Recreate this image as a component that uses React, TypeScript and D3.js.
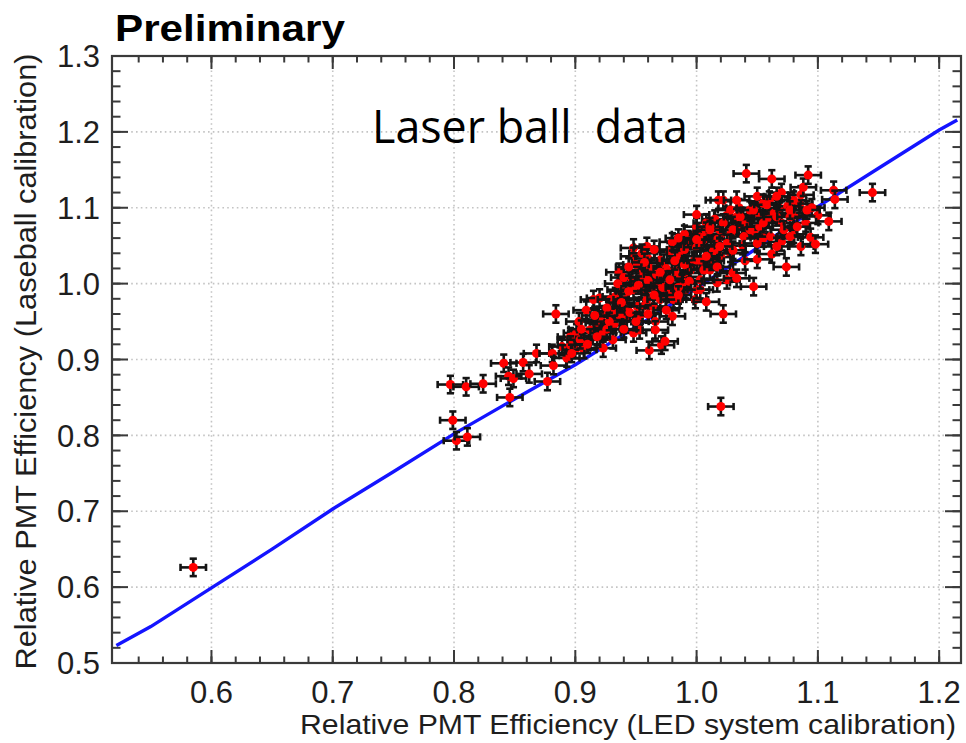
import * as d3 from 'd3';
import * as React from 'react';

const width = 966;
const height = 743;
const plot = { left: 112, right: 961, top: 56, bottom: 663 };

const xTicks = [0.6, 0.7, 0.8, 0.9, 1.0, 1.1, 1.2];
const yTicks = [0.5, 0.6, 0.7, 0.8, 0.9, 1.0, 1.1, 1.2, 1.3];

// fit line (LED vs laserball)
const fitLine: [number, number][] = [
  [0.5216, 0.5231], [0.55, 0.548], [0.6, 0.599], [0.65, 0.65], [0.7, 0.703],
  [0.75, 0.752], [0.8, 0.802], [0.85, 0.848], [0.9, 0.893], [0.95, 0.943],
  [1.0, 0.994], [1.05, 1.047], [1.1, 1.1015], [1.15, 1.152], [1.2, 1.2025],
  [1.2149, 1.2157],
];

// [LED efficiency, laserball efficiency]
const outliers: [number, number][] = [
  [0.585, 0.626], [1.02, 0.838], [1.145, 1.12],
];

const lowGroup: [number, number][] = [
  [0.797, 0.867], [0.81, 0.864], [0.824, 0.868], [0.799, 0.82], [0.802, 0.793],
  [0.811, 0.798], [0.846, 0.85], [0.841, 0.895], [0.845, 0.878], [0.849, 0.875],
  [0.857, 0.896], [0.862, 0.881], [0.868, 0.908], [0.877, 0.871], [0.881, 0.908],
  [0.882, 0.892], [0.884, 0.96], [0.893, 0.902], [0.889, 0.917], [0.896, 0.926],
  [0.9, 0.913], [0.901, 0.935], [0.896, 0.93], [0.896, 0.919],
];

const midCluster: [number, number][] = [
  [0.903, 0.95], [0.907, 0.913], [0.912, 0.926], [0.915, 0.939], [0.909, 0.965],
  [0.915, 0.979], [0.92, 0.981], [0.923, 0.959], [0.919, 0.948], [0.923, 0.915],
  [0.904, 0.926], [0.912, 0.939], [0.92, 0.952], [0.929, 0.957], [0.933, 0.965],
  [0.933, 0.983], [0.937, 0.992], [0.929, 0.979], [0.942, 0.979], [0.942, 0.97],
  [0.937, 0.957], [0.941, 0.952], [0.948, 0.935], [0.951, 0.97], [0.953, 0.957],
  [0.953, 0.939], [0.956, 0.97], [0.958, 0.99], [0.958, 0.998], [0.959, 0.979],
  [0.961, 0.912], [0.971, 0.919], [0.974, 0.924], [0.931, 0.926], [0.923, 0.935],
  [0.966, 0.95], [0.966, 0.939], [0.964, 0.97], [0.964, 0.996], [0.97, 0.979],
  [0.97, 1.005], [0.975, 0.99], [0.978, 0.987], [0.98, 0.957], [0.981, 0.979],
  [0.986, 0.979], [0.991, 0.992], [0.999, 0.979], [1.0, 0.992], [1.003, 0.992],
  [1.008, 0.976], [1.022, 0.96], [0.936, 1.015], [0.947, 1.005], [0.953, 1.018],
  [0.948, 0.992], [0.956, 1.009], [0.97, 1.0], [0.992, 1.009], [0.984, 1.009],
  [0.992, 1.014], [0.995, 1.018], [1.003, 1.005], [1.011, 1.018], [0.948, 1.047],
  [0.948, 1.036], [0.959, 1.049], [0.96, 1.033], [0.97, 1.031], [0.973, 1.027],
  [0.986, 1.027], [0.978, 1.044], [0.978, 1.042], [0.986, 1.036], [0.992, 1.053],
  [0.992, 1.051], [0.993, 1.058], [0.999, 1.064],
];

// the dark, overlapping core of the cluster
const denseCore: [number, number][] = [
  [0.962, 1.02], [0.967, 1.012], [0.975, 1.02], [0.982, 1.016], [0.988, 1.0],
  [0.994, 1.003], [0.965, 0.985], [0.972, 0.995], [0.985, 0.995], [0.978, 1.005],
  [0.96, 1.004], [0.952, 0.998], [0.944, 0.99], [0.938, 0.975], [0.945, 0.962],
  [0.932, 0.946], [0.926, 0.94], [0.918, 0.93], [0.91, 0.92], [0.926, 0.968],
  [0.935, 1.0], [0.94, 1.008], [0.95, 1.025], [0.955, 1.04], [0.965, 1.045],
  [0.98, 1.055], [0.99, 1.045], [1.0, 1.048], [1.005, 1.055], [1.012, 1.062],
  [1.02, 1.065], [1.028, 1.065], [1.035, 1.075], [1.04, 1.08], [1.045, 1.085],
  [1.052, 1.09], [1.06, 1.095], [1.068, 1.1], [1.07, 1.08], [1.08, 1.09],
  [1.085, 1.105], [1.058, 1.085], [1.048, 1.065], [1.038, 1.05], [1.028, 1.04],
  [1.02, 1.035], [1.012, 1.03], [1.005, 1.025], [0.998, 1.03], [0.99, 1.025],
  [0.982, 1.03], [1.035, 1.1], [1.025, 1.09], [1.015, 1.085], [1.008, 1.08],
  [1.0, 1.068], [0.99, 1.065], [0.985, 1.06], [1.04, 1.03], [1.055, 1.06],
  [1.07, 1.055], [1.08, 1.065], [1.09, 1.08], [1.1, 1.09], [1.095, 1.1],
  [1.06, 1.11], [1.07, 1.12], [1.08, 1.11], [0.928, 0.95], [0.916, 0.958],
  [0.905, 0.94], [0.897, 0.908], [0.94, 0.94], [0.95, 0.95], [0.96, 0.96],
  [0.975, 0.965], [0.985, 0.985], [0.97, 1.015], [0.957, 1.028], [0.944, 1.022],
];

const highCluster: [number, number][] = [
  [1.0, 1.031], [1.003, 1.031], [1.006, 1.062], [1.008, 1.069], [1.014, 1.044],
  [1.017, 1.058], [1.017, 1.04], [1.017, 1.001], [1.019, 1.071], [1.025, 1.053],
  [1.0, 1.075], [1.011, 1.075], [1.0, 1.091], [1.018, 1.11], [1.022, 1.11],
  [1.006, 1.018], [1.017, 1.022], [1.025, 1.005], [1.03, 1.014], [1.033, 1.007],
  [1.03, 1.044], [1.019, 1.049], [1.008, 1.036], [1.0, 1.058], [1.022, 1.08],
  [1.011, 1.071], [1.033, 1.088], [1.03, 1.071], [1.028, 1.097], [1.033, 1.11],
  [1.036, 1.088], [1.039, 1.062], [1.044, 1.071], [1.044, 1.097], [1.047, 1.097],
  [1.047, 0.996], [1.05, 1.053], [1.05, 1.032], [1.05, 1.115], [1.052, 1.075],
  [1.055, 1.08], [1.055, 1.106], [1.058, 1.104], [1.061, 1.062], [1.062, 1.039],
  [1.064, 1.093], [1.066, 1.049], [1.066, 1.115], [1.066, 1.088], [1.072, 1.071],
  [1.074, 1.022], [1.075, 1.102], [1.077, 1.088], [1.077, 1.062], [1.077, 1.097],
  [1.083, 1.075], [1.086, 1.049], [1.086, 1.117], [1.088, 1.127], [1.091, 1.097],
  [1.092, 1.143], [1.094, 1.061], [1.098, 1.052], [1.109, 1.082], [1.113, 1.123],
  [1.114, 1.111], [1.041, 1.145], [1.062, 1.138],
];

const xErr = 0.0105;
const yErr = 0.0115;

const axisColor = '#3a3a3a';
const textColor = '#1e1e1e';
const font = '"Liberation Sans", Arial, Helvetica, sans-serif';

export default function App() {
  const x = d3.scaleLinear().domain([0.518, 1.218]).range([plot.left, plot.right]);
  const y = d3.scaleLinear().domain([0.5, 1.3]).range([plot.bottom, plot.top]);

  const allPoints = [...lowGroup, ...midCluster, ...denseCore, ...highCluster, ...outliers];

  const xMinor = d3.range(0.54, 1.22, 0.02).filter(v => v < 1.218);
  const yMinor = d3.range(0.52, 1.3, 0.02);

  const line = d3
    .line<[number, number]>()
    .x(d => x(d[0]))
    .y(d => y(d[1]));

  const xMajLen = 13;
  const xMinLen = 6.5;
  const yMajLen = 16;
  const yMinLen = 8.5;
  const cap = 3.6;

  return (
    <div style={{ position: 'absolute', left: 0, top: 0 }}>
      <svg width={width} height={height} style={{ display: 'block', background: '#fff' }}>
        {/* grid */}
        <g stroke="#c4c4c4" strokeWidth={1.6} strokeDasharray="1.6 3.2">
          {xTicks.map(t => (
            <line key={'gx' + t} x1={x(t)} x2={x(t)} y1={plot.top} y2={plot.bottom} />
          ))}
          {yTicks
            .filter(t => t > 0.5 && t < 1.3)
            .map(t => (
              <line key={'gy' + t} x1={plot.left} x2={plot.right} y1={y(t)} y2={y(t)} />
            ))}
        </g>

        {/* ticks on all four sides */}
        <g stroke={axisColor} strokeWidth={2}>
          {xMinor.map(t => (
            <g key={'xm' + t}>
              <line x1={x(t)} x2={x(t)} y1={plot.bottom} y2={plot.bottom - xMinLen} />
              <line x1={x(t)} x2={x(t)} y1={plot.top} y2={plot.top + xMinLen} />
            </g>
          ))}
          {xTicks.map(t => (
            <g key={'xM' + t}>
              <line x1={x(t)} x2={x(t)} y1={plot.bottom} y2={plot.bottom - xMajLen} />
              <line x1={x(t)} x2={x(t)} y1={plot.top} y2={plot.top + xMajLen} />
            </g>
          ))}
          {yMinor.map(t => (
            <g key={'ym' + t}>
              <line x1={plot.left} x2={plot.left + yMinLen} y1={y(t)} y2={y(t)} />
              <line x1={plot.right} x2={plot.right - yMinLen} y1={y(t)} y2={y(t)} />
            </g>
          ))}
          {yTicks.map(t => (
            <g key={'yM' + t}>
              <line x1={plot.left} x2={plot.left + yMajLen} y1={y(t)} y2={y(t)} />
              <line x1={plot.right} x2={plot.right - yMajLen} y1={y(t)} y2={y(t)} />
            </g>
          ))}
        </g>

        {/* fit line */}
        <path d={line(fitLine) || ''} fill="none" stroke="#1414ff" strokeWidth={3.4} />

        {/* points with error bars */}
        {allPoints.map((d, i) => {
          const cx = x(d[0]);
          const cy = y(d[1]);
          const x0 = x(d[0] - xErr);
          const x1 = x(d[0] + xErr);
          const y0 = y(d[1] - yErr);
          const y1 = y(d[1] + yErr);
          return (
            <g key={i}>
              <g stroke="#141414" strokeWidth={2.6}>
                <line x1={x0} x2={x1} y1={cy} y2={cy} />
                <line x1={x0} x2={x0} y1={cy - cap} y2={cy + cap} />
                <line x1={x1} x2={x1} y1={cy - cap} y2={cy + cap} />
                <line x1={cx} x2={cx} y1={y0} y2={y1} />
                <line x1={cx - cap} x2={cx + cap} y1={y0} y2={y0} />
                <line x1={cx - cap} x2={cx + cap} y1={y1} y2={y1} />
              </g>
              <circle cx={cx} cy={cy} r={4.5} fill="#ff0000" />
            </g>
          );
        })}

        {/* frame */}
        <rect
          x={plot.left}
          y={plot.top}
          width={plot.right - plot.left}
          height={plot.bottom - plot.top}
          fill="none"
          stroke={axisColor}
          strokeWidth={2.2}
        />

        {/* tick labels */}
        <g fontFamily={font} fontSize={31} fill={textColor}>
          {xTicks.map(t => (
            <text key={'xl' + t} x={x(t)} y={703} textAnchor="middle">
              {t.toFixed(1)}
            </text>
          ))}
          {yTicks.map(t => (
            <text key={'yl' + t} x={100} y={y(t)} dy="0.36em" textAnchor="end">
              {t.toFixed(1)}
            </text>
          ))}
        </g>

        {/* axis titles */}
        <text
          x={956}
          y={734}
          textAnchor="end"
          fontFamily={font}
          fontSize={28}
          fill={textColor}
          textLength={656}
          lengthAdjust="spacingAndGlyphs"
        >
          Relative PMT Efficiency (LED system calibration)
        </text>
        <text
          transform={`translate(36,${(plot.top + plot.bottom) / 2 + 2}) rotate(-90)`}
          textAnchor="middle"
          fontFamily={font}
          fontSize={29}
          fill={textColor}
          textLength={616}
          lengthAdjust="spacingAndGlyphs"
        >
          Relative PMT Efficiency (Laseball calibration)
        </text>

        {/* title */}
        <text
          x={115}
          y={41}
          fontFamily={font}
          fontWeight="bold"
          fontSize={36}
          fill="#000"
          textLength={230}
          lengthAdjust="spacingAndGlyphs"
        >
          Preliminary
        </text>

        {/* annotation */}
        <text
          x={372}
          y={143}
          fontFamily='"Open Sans", Lato, sans-serif'
          fontSize={46}
          fill="#000"
          textLength={316}
          lengthAdjust="spacingAndGlyphs"
          style={{ whiteSpace: 'pre' }}
        >
          {'Laser ball  data'}
        </text>
      </svg>
    </div>
  );
}
